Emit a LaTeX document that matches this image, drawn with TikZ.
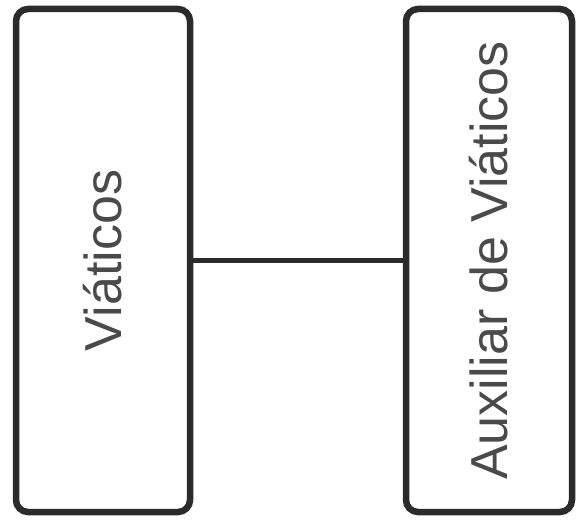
\documentclass[tikz,border=0pt]{standalone}
\usepackage{fontspec}
\setmainfont{Liberation Sans}
\usepackage{tikz}
\usetikzlibrary{positioning}
\definecolor{vboxline}{HTML}{2B2B2B}
\definecolor{vtext}{HTML}{4A4A4A}

\begin{document}
\begin{tikzpicture}[x=1pt, y=1pt,
  entidad/.style={draw=vboxline, line width=6.5pt, rounded corners=12pt, fill=white,
    rotate=90, minimum width=503pt, text=vtext, font=\fontsize{52}{60}\selectfont,
    inner sep=0pt},
  enlace/.style={draw=vboxline, line width=5pt}]
  \useasboundingbox (0,0) rectangle (576,520);
  \node[entidad, minimum height=174pt] (viat) at (103,259.5) {Viáticos};
  \node[entidad, minimum height=166pt] (aux) at (489,259.5) {Auxiliar de Viáticos};
  \draw[enlace] (viat.south) -- (aux.north);
\end{tikzpicture}
\end{document}
